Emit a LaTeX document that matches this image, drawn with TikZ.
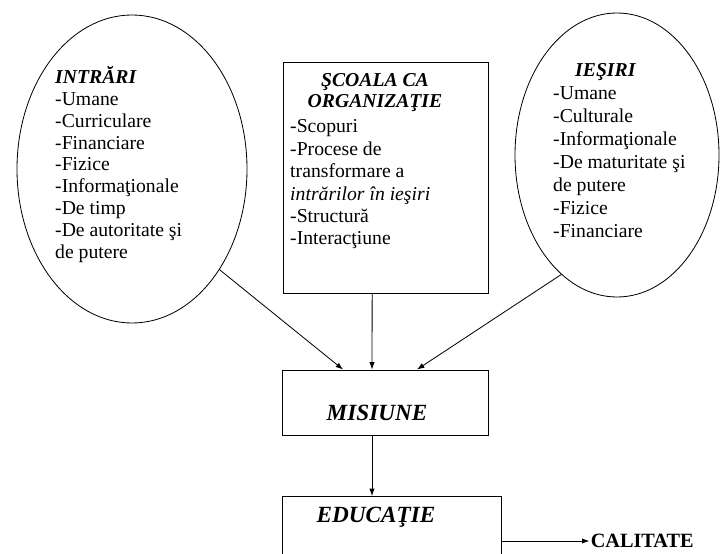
\documentclass[tikz,border=0pt]{standalone}
\usepackage{fontspec}
\setmainfont{Liberation Serif}
\usetikzlibrary{arrows.meta,positioning,shapes.geometric}

\begin{document}
\begin{tikzpicture}[
    cutie/.style={draw, line width=0.8pt, inner sep=0pt},
    ovala/.style={draw, ellipse, line width=0.7pt, inner sep=0pt},
    lista/.style={inner sep=0pt, align=left, font=\fontsize{16.8}{18.7}\selectfont},
    titlu/.style={inner sep=0pt, font=\fontsize{19.8}{22}\selectfont\bfseries\itshape},
    sageata/.style={-{Latex[length=2.2mm,width=1.6mm]}, line width=0.7pt}
  ]
  \useasboundingbox (0,0) rectangle (21.63,16.59);
  % Intrari si iesiri
  \node[ovala, minimum width=6.9cm, minimum height=9.24cm] (intrari) at (3.96,11.52) {};
  \node[ovala, minimum width=6.12cm, minimum height=8.52cm] (iesiri) at (18.51,11.94) {};
  \node[lista, anchor=north west] (intraritext) at (1.65,14.61)
    {\textbf{\textit{INTRĂRI}}\\ -Umane\\ -Curriculare\\ -Financiare\\ -Fizice\\
     -Informaţionale\\ -De timp\\ -De autoritate şi\\ de putere};
  \node[lista, anchor=north west, font=\fontsize{16.8}{19.6}\selectfont] (iesiritext)
    at (16.59,14.68)
    {\hspace*{0.66cm}\textbf{\textit{IEŞIRI}}\\ -Umane\\ -Culturale\\ -Informaţionale\\
     -De maturitate şi\\ de putere\\ -Fizice\\ -Financiare};

  % Scoala ca organizatie
  \node[cutie, minimum width=6.15cm, minimum height=6.93cm] (scoala) at (11.565,11.265) {};
  \node[lista, align=center, anchor=north, font=\fontsize{16.8}{17.9}\selectfont\bfseries\itshape]
    (scoalatitlu) at (11.25,14.4) {ŞCOALA CA\\ ORGANIZAŢIE};
  \node[lista, anchor=north west, font=\fontsize{16.8}{19.1}\selectfont] (scoalatext)
    at (8.7,13.0)
    {-Scopuri\\ -Procese de\\ transformare a\\ \textit{intrărilor în ieşiri}\\
     -Structură\\ -Interacţiune};

  % Misiune, educatie, calitate
  \node[cutie, minimum width=6.18cm, minimum height=1.95cm] (misiune) at (11.55,4.515) {};
  \node[titlu, anchor=base] (misiunetext) at (11.31,3.99) {MISIUNE};
  \node[cutie, minimum width=6.57cm, minimum height=2.5cm, anchor=north] (educatie)
    at (11.745,1.71) {};
  \node[titlu, anchor=base] (educatietext) at (11.28,0.93) {EDUCAŢIE};
  \node[inner sep=1pt, anchor=west, font=\fontsize{17.3}{20}\selectfont\bfseries]
    (calitate) at (17.68,0.36) {CALITATE};

  \draw[sageata] (intrari.-49.6) -- ([xshift=-1.26cm]misiune.north);
  \draw[sageata] ([xshift=-0.4cm]scoala.south) -- ([xshift=-0.39cm]misiune.north);
  \draw[sageata] (iesiri.245.4) -- ([xshift=0.96cm]misiune.north);
  \draw[sageata] ([xshift=-0.39cm]misiune.south)
    -- ([xshift=-0.39cm]misiune.south |- educatie.north);
  \draw[sageata] (educatie.east |- calitate.west) -- (calitate.west);
\end{tikzpicture}
\end{document}
